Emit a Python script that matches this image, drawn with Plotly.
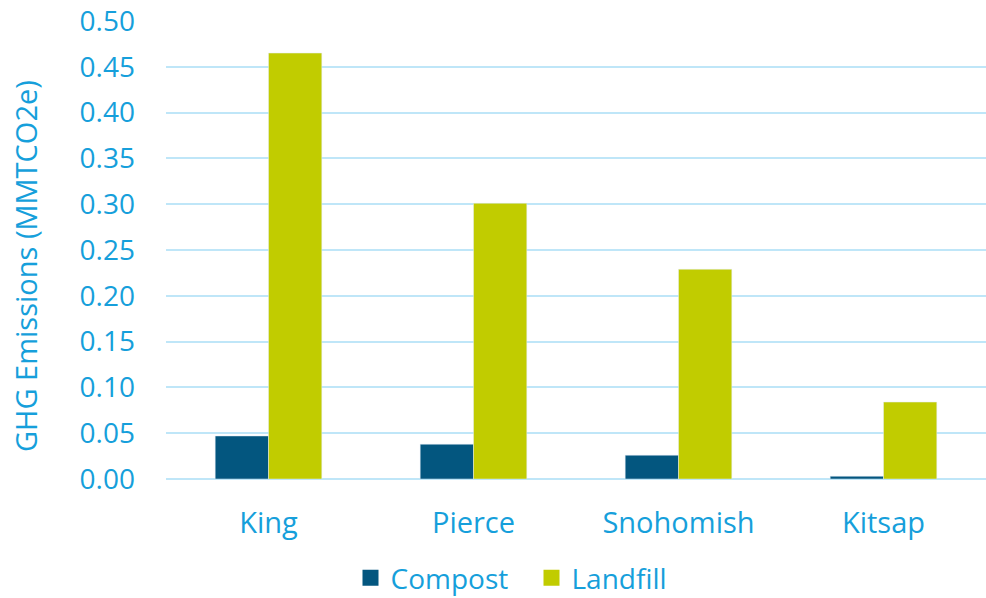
import plotly.graph_objects as go

categories = ["King", "Pierce", "Snohomish", "Kitsap"]
compost = [0.047, 0.038, 0.026, 0.003]
landfill = [0.465, 0.301, 0.229, 0.084]
tick_vals = [0.0, 0.05, 0.10, 0.15, 0.20, 0.25, 0.30, 0.35, 0.40, 0.45, 0.50]
tick_text = ["0.00", "0.05", "0.10", "0.15", "0.20", "0.25", "0.30", "0.35", "0.40", "0.45", "0.50"]
series_names = ["Compost", "Landfill"]
series_colors = ["#03567f", "#c1cc00"]

txt = "#169fdb"
font = "Open Sans, Segoe UI, sans-serif"

fig = go.Figure()
for name, vals, col in zip(series_names, [compost, landfill], series_colors):
    fig.add_trace(go.Bar(name=name, x=categories, y=vals, marker_color=col,
                         legendgroup=name, showlegend=False))
# legend entries with larger square swatches
for name, col in zip(series_names, series_colors):
    fig.add_trace(go.Scatter(name=name, x=[None], y=[None], mode="markers",
                             marker=dict(symbol="square", size=18, color=col),
                             legendgroup=name, showlegend=True))

fig.add_annotation(text="GHG Emissions (MMTCO2e)", xref="paper", yref="paper",
                   x=0, xshift=-141, xanchor="center", y=0.465, yanchor="middle",
                   textangle=-90, showarrow=False, font=dict(size=29, color=txt))

fig.update_layout(
    width=986, height=598,
    margin=dict(l=166, r=0, t=21, b=119, autoexpand=False),
    paper_bgcolor="white", plot_bgcolor="white",
    barmode="group", bargap=0.48, bargroupgap=0,
    font=dict(family=font, color=txt, size=28),
    showlegend=True,
    legend=dict(orientation="h", x=0.225, xanchor="left", y=-0.216, yanchor="middle",
                font=dict(size=28, color=txt), itemsizing="trace", tracegroupgap=0,
                entrywidth=136, entrywidthmode="pixels"),
    xaxis=dict(showline=False, showgrid=False, tickfont=dict(size=29, color=txt), ticklabelstandoff=24),
    yaxis=dict(range=[0, 0.5], tickvals=tick_vals, ticktext=tick_text,
               showgrid=True, gridcolor="#bfe6f8", gridwidth=2,
               zeroline=True, zerolinecolor="#bfe6f8", zerolinewidth=2,
               tickfont=dict(size=28, color=txt), ticklabelstandoff=30),
)

fig.write_html("out.html")
